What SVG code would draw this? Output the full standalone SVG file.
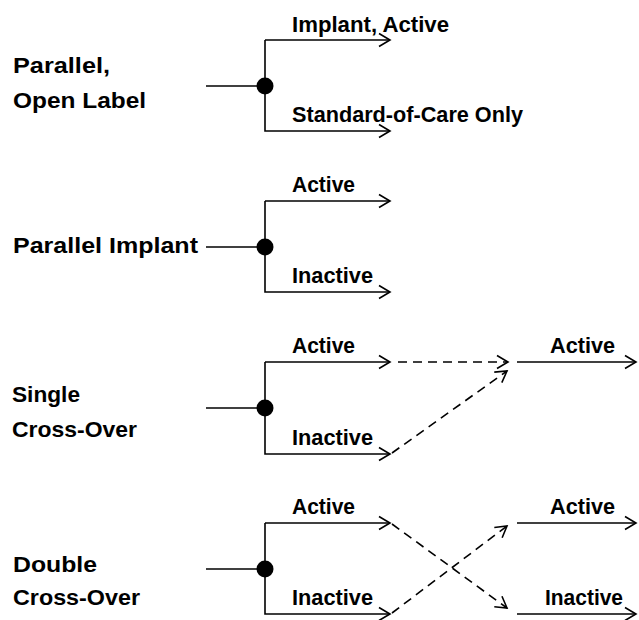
<svg xmlns="http://www.w3.org/2000/svg" width="639" height="620" viewBox="0 0 639 620">
<defs>
<marker id="arr" markerUnits="userSpaceOnUse" markerWidth="16" markerHeight="16" refX="12" refY="8" orient="auto" overflow="visible">
<path d="M1,1.5 L12,8 L1,14.5" fill="none" stroke="#000" stroke-width="1.6"/>
</marker>
</defs>
<style>
text{font-family:"Liberation Sans",Arial,sans-serif;font-weight:700;font-size:22px;fill:#000}
.ln{fill:none;stroke:#000;stroke-width:1.6}
.ds{fill:none;stroke:#000;stroke-width:1.6;stroke-dasharray:9,6}
.dot{fill:#000}
</style>
<rect width="639" height="620" fill="#fff"/>
<g id="connectors">
<path class="ln" d="M206,86 H265"/>
<path class="ln" d="M265,40 V131 H390" marker-end="url(#arr)"/>
<path class="ln" d="M265,40 H390" marker-end="url(#arr)"/>
<path class="ln" d="M206,247 H265"/>
<path class="ln" d="M265,201 V292 H390" marker-end="url(#arr)"/>
<path class="ln" d="M265,201 H390" marker-end="url(#arr)"/>
<path class="ln" d="M206,408 H265"/>
<path class="ln" d="M265,362 V454 H390" marker-end="url(#arr)"/>
<path class="ln" d="M265,362 H390" marker-end="url(#arr)"/>
<path class="ds" d="M398,362 H508" marker-end="url(#arr)"/>
<path class="ds" d="M392,453 L507,371" marker-end="url(#arr)"/>
<path class="ln" d="M517,362 H636" marker-end="url(#arr)"/>
<path class="ln" d="M206,569 H265"/>
<path class="ln" d="M265,523 V614 H390" marker-end="url(#arr)"/>
<path class="ln" d="M265,523 H390" marker-end="url(#arr)"/>
<path class="ds" d="M392,524 L507,608" marker-end="url(#arr)"/>
<path class="ds" d="M392,613 L507,526" marker-end="url(#arr)"/>
<path class="ln" d="M517,523 H636" marker-end="url(#arr)"/>
<path class="ln" d="M517,614 H636" marker-end="url(#arr)"/>
</g>
<g id="parallel-open-label">
<circle class="dot" cx="265" cy="86" r="8.5"/>
<text x="13" y="73" textLength="97" lengthAdjust="spacingAndGlyphs">Parallel,</text>
<text x="13" y="108" textLength="133" lengthAdjust="spacingAndGlyphs">Open Label</text>
<text x="292" y="32" textLength="157" lengthAdjust="spacingAndGlyphs">Implant, Active</text>
<text x="292" y="122" textLength="231" lengthAdjust="spacingAndGlyphs">Standard-of-Care Only</text>
</g>
<g id="parallel-implant">
<circle class="dot" cx="265" cy="247" r="8.5"/>
<text x="13" y="253" textLength="185" lengthAdjust="spacingAndGlyphs">Parallel Implant</text>
<text x="292" y="192" textLength="63" lengthAdjust="spacingAndGlyphs">Active</text>
<text x="292" y="283" textLength="81" lengthAdjust="spacingAndGlyphs">Inactive</text>
</g>
<g id="single-cross-over">
<circle class="dot" cx="265" cy="408" r="8.5"/>
<text x="12" y="402" textLength="68" lengthAdjust="spacingAndGlyphs">Single</text>
<text x="12" y="437" textLength="125" lengthAdjust="spacingAndGlyphs">Cross-Over</text>
<text x="292" y="353" textLength="63" lengthAdjust="spacingAndGlyphs">Active</text>
<text x="292" y="445" textLength="81" lengthAdjust="spacingAndGlyphs">Inactive</text>
<text x="550" y="353" textLength="65" lengthAdjust="spacingAndGlyphs">Active</text>
</g>
<g id="double-cross-over">
<circle class="dot" cx="265" cy="569" r="8.5"/>
<text x="13" y="572" textLength="84" lengthAdjust="spacingAndGlyphs">Double</text>
<text x="13" y="605" textLength="127" lengthAdjust="spacingAndGlyphs">Cross-Over</text>
<text x="292" y="514" textLength="63" lengthAdjust="spacingAndGlyphs">Active</text>
<text x="292" y="605" textLength="81" lengthAdjust="spacingAndGlyphs">Inactive</text>
<text x="550" y="514" textLength="65" lengthAdjust="spacingAndGlyphs">Active</text>
<text x="545" y="605" textLength="78" lengthAdjust="spacingAndGlyphs">Inactive</text>
</g>
</svg>
